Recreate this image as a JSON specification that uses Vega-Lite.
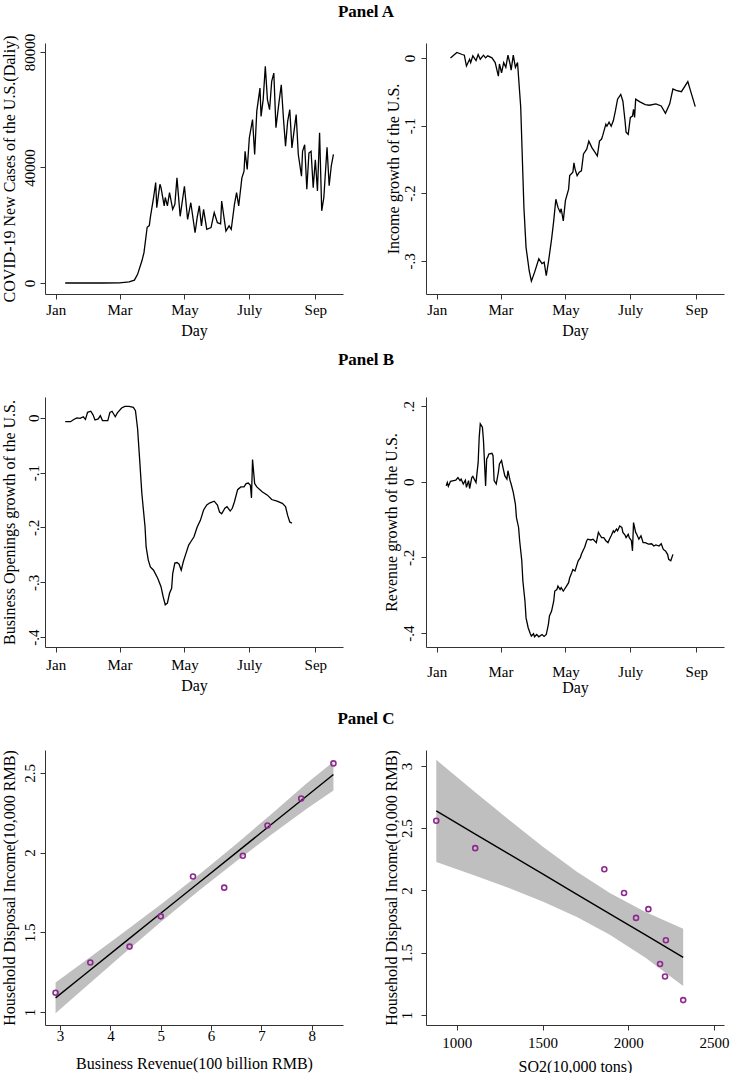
{
  "$schema": "https://vega.github.io/schema/vega-lite/v6.json",
  "padding": {"left": 0, "top": 3, "right": 0, "bottom": 0},
  "background": "white",
  "bounds": "flush",
  "columns": 2,
  "spacing": {"row": 103, "column": 83},
  "config": {
    "font": "Liberation Serif",
    "view": {"stroke": null},
    "axis": {"grid": false, "domainColor": "#333333", "tickColor": "#333333", "labelColor": "#000000", "titleColor": "#000000", "labelFont": "Liberation Serif", "titleFont": "Liberation Serif", "labelFontSize": 15, "titleFontSize": 16, "titleFontWeight": "normal", "tickSize": 5, "labelFlush": false, "labelOverlap": false},
    "axisY": {"labelAngle": -90, "labelAlign": "center", "labelBaseline": "bottom"},
    "title": {"font": "Liberation Serif", "fontSize": 17, "fontWeight": "bold", "color": "#000000", "anchor": "middle", "frame": "group", "baseline": "bottom", "dx": 172}
  },
  "datasets": {
    "covid": [
      {"date": "2020-01-10", "cases": 0}, {"date": "2020-02-15", "cases": 0}, {"date": "2020-03-01", "cases": 50}, {"date": "2020-03-10", "cases": 400},
      {"date": "2020-03-15", "cases": 1000}, {"date": "2020-03-18", "cases": 3000}, {"date": "2020-03-22", "cases": 7600}, {"date": "2020-03-24", "cases": 10500},
      {"date": "2020-03-27", "cases": 19300}, {"date": "2020-03-29", "cases": 19900}, {"date": "2020-03-30", "cases": 22700}, {"date": "2020-04-02", "cases": 29600},
      {"date": "2020-04-04", "cases": 34800}, {"date": "2020-04-05", "cases": 26100}, {"date": "2020-04-08", "cases": 34200}, {"date": "2020-04-09", "cases": 33000},
      {"date": "2020-04-12", "cases": 26700}, {"date": "2020-04-13", "cases": 29600}, {"date": "2020-04-15", "cases": 26700}, {"date": "2020-04-17", "cases": 31300},
      {"date": "2020-04-20", "cases": 25500}, {"date": "2020-04-22", "cases": 27200}, {"date": "2020-04-24", "cases": 36400}, {"date": "2020-04-27", "cases": 23100},
      {"date": "2020-05-01", "cases": 33500}, {"date": "2020-05-04", "cases": 22000}, {"date": "2020-05-07", "cases": 27800}, {"date": "2020-05-11", "cases": 17400},
      {"date": "2020-05-13", "cases": 22700}, {"date": "2020-05-15", "cases": 26700}, {"date": "2020-05-17", "cases": 19800}, {"date": "2020-05-19", "cases": 25500},
      {"date": "2020-05-22", "cases": 18600}, {"date": "2020-05-26", "cases": 19200}, {"date": "2020-05-29", "cases": 24400}, {"date": "2020-06-01", "cases": 20900},
      {"date": "2020-06-04", "cases": 20500}, {"date": "2020-06-05", "cases": 28400}, {"date": "2020-06-09", "cases": 18000}, {"date": "2020-06-12", "cases": 19800},
      {"date": "2020-06-14", "cases": 18600}, {"date": "2020-06-17", "cases": 27200}, {"date": "2020-06-19", "cases": 31300}, {"date": "2020-06-21", "cases": 26700},
      {"date": "2020-06-24", "cases": 36400}, {"date": "2020-06-26", "cases": 38700}, {"date": "2020-06-27", "cases": 45600}, {"date": "2020-06-29", "cases": 39300},
      {"date": "2020-07-01", "cases": 50300}, {"date": "2020-07-04", "cases": 56600}, {"date": "2020-07-06", "cases": 44500}, {"date": "2020-07-08", "cases": 59500},
      {"date": "2020-07-11", "cases": 67500}, {"date": "2020-07-12", "cases": 57700}, {"date": "2020-07-14", "cases": 63500}, {"date": "2020-07-16", "cases": 75000},
      {"date": "2020-07-18", "cases": 63500}, {"date": "2020-07-20", "cases": 60000}, {"date": "2020-07-22", "cases": 69800}, {"date": "2020-07-24", "cases": 72700},
      {"date": "2020-07-26", "cases": 53800}, {"date": "2020-07-29", "cases": 63000}, {"date": "2020-07-31", "cases": 68600}, {"date": "2020-08-02", "cases": 57200},
      {"date": "2020-08-04", "cases": 47400}, {"date": "2020-08-06", "cases": 56000}, {"date": "2020-08-08", "cases": 60000}, {"date": "2020-08-10", "cases": 46800},
      {"date": "2020-08-12", "cases": 52600}, {"date": "2020-08-14", "cases": 58300}, {"date": "2020-08-16", "cases": 44500}, {"date": "2020-08-19", "cases": 37000},
      {"date": "2020-08-20", "cases": 45600}, {"date": "2020-08-22", "cases": 47900}, {"date": "2020-08-24", "cases": 32500}, {"date": "2020-08-26", "cases": 45000},
      {"date": "2020-08-28", "cases": 45600}, {"date": "2020-08-30", "cases": 33000}, {"date": "2020-09-01", "cases": 42700}, {"date": "2020-09-03", "cases": 31900},
      {"date": "2020-09-05", "cases": 52000}, {"date": "2020-09-07", "cases": 25000}, {"date": "2020-09-09", "cases": 29600}, {"date": "2020-09-12", "cases": 47000},
      {"date": "2020-09-14", "cases": 33700}, {"date": "2020-09-16", "cases": 40600}, {"date": "2020-09-18", "cases": 44500}
    ],
    "income": [
      {"date": "2020-01-14", "growth": 0.000}, {"date": "2020-01-20", "growth": 0.008}, {"date": "2020-01-25", "growth": 0.005}, {"date": "2020-01-27", "growth": 0.004},
      {"date": "2020-01-29", "growth": -0.012}, {"date": "2020-02-01", "growth": -0.002}, {"date": "2020-02-02", "growth": -0.007}, {"date": "2020-02-04", "growth": 0.003},
      {"date": "2020-02-07", "growth": -0.004}, {"date": "2020-02-09", "growth": 0.005}, {"date": "2020-02-11", "growth": -0.002}, {"date": "2020-02-14", "growth": 0.004},
      {"date": "2020-02-16", "growth": 0.000}, {"date": "2020-02-18", "growth": 0.003}, {"date": "2020-02-22", "growth": 0.000}, {"date": "2020-02-25", "growth": -0.007},
      {"date": "2020-02-28", "growth": -0.027}, {"date": "2020-02-29", "growth": -0.009}, {"date": "2020-03-02", "growth": -0.022}, {"date": "2020-03-04", "growth": -0.007},
      {"date": "2020-03-06", "growth": -0.014}, {"date": "2020-03-08", "growth": 0.004}, {"date": "2020-03-10", "growth": -0.009}, {"date": "2020-03-11", "growth": -0.018},
      {"date": "2020-03-13", "growth": 0.004}, {"date": "2020-03-15", "growth": -0.014}, {"date": "2020-03-17", "growth": -0.007}, {"date": "2020-03-18", "growth": -0.029},
      {"date": "2020-03-20", "growth": -0.073}, {"date": "2020-03-22", "growth": -0.172}, {"date": "2020-03-23", "growth": -0.221}, {"date": "2020-03-25", "growth": -0.280},
      {"date": "2020-03-28", "growth": -0.315}, {"date": "2020-03-30", "growth": -0.330}, {"date": "2020-04-02", "growth": -0.317}, {"date": "2020-04-06", "growth": -0.297},
      {"date": "2020-04-09", "growth": -0.304}, {"date": "2020-04-11", "growth": -0.302}, {"date": "2020-04-13", "growth": -0.322}, {"date": "2020-04-15", "growth": -0.302},
      {"date": "2020-04-18", "growth": -0.268}, {"date": "2020-04-20", "growth": -0.241}, {"date": "2020-04-22", "growth": -0.209}, {"date": "2020-04-24", "growth": -0.221},
      {"date": "2020-04-26", "growth": -0.228}, {"date": "2020-04-27", "growth": -0.223}, {"date": "2020-04-29", "growth": -0.241}, {"date": "2020-05-01", "growth": -0.211},
      {"date": "2020-05-04", "growth": -0.194}, {"date": "2020-05-05", "growth": -0.174}, {"date": "2020-05-08", "growth": -0.169}, {"date": "2020-05-09", "growth": -0.155},
      {"date": "2020-05-10", "growth": -0.164}, {"date": "2020-05-12", "growth": -0.174}, {"date": "2020-05-14", "growth": -0.169}, {"date": "2020-05-16", "growth": -0.167},
      {"date": "2020-05-18", "growth": -0.142}, {"date": "2020-05-21", "growth": -0.135}, {"date": "2020-05-23", "growth": -0.123}, {"date": "2020-05-26", "growth": -0.133},
      {"date": "2020-05-29", "growth": -0.140}, {"date": "2020-05-31", "growth": -0.145}, {"date": "2020-06-02", "growth": -0.123}, {"date": "2020-06-04", "growth": -0.120},
      {"date": "2020-06-05", "growth": -0.115}, {"date": "2020-06-08", "growth": -0.098}, {"date": "2020-06-09", "growth": -0.101}, {"date": "2020-06-11", "growth": -0.095},
      {"date": "2020-06-13", "growth": -0.101}, {"date": "2020-06-15", "growth": -0.093}, {"date": "2020-06-17", "growth": -0.078}, {"date": "2020-06-19", "growth": -0.061},
      {"date": "2020-06-22", "growth": -0.054}, {"date": "2020-06-24", "growth": -0.064}, {"date": "2020-06-26", "growth": -0.093}, {"date": "2020-06-27", "growth": -0.110},
      {"date": "2020-06-29", "growth": -0.113}, {"date": "2020-07-01", "growth": -0.088}, {"date": "2020-07-03", "growth": -0.086}, {"date": "2020-07-04", "growth": -0.076},
      {"date": "2020-07-05", "growth": -0.088}, {"date": "2020-07-06", "growth": -0.061}, {"date": "2020-07-10", "growth": -0.065}, {"date": "2020-07-15", "growth": -0.069},
      {"date": "2020-07-19", "growth": -0.070}, {"date": "2020-07-25", "growth": -0.068}, {"date": "2020-07-30", "growth": -0.071}, {"date": "2020-08-03", "growth": -0.082},
      {"date": "2020-08-07", "growth": -0.068}, {"date": "2020-08-10", "growth": -0.046}, {"date": "2020-08-13", "growth": -0.048}, {"date": "2020-08-18", "growth": -0.050},
      {"date": "2020-08-24", "growth": -0.035}, {"date": "2020-08-27", "growth": -0.051}, {"date": "2020-08-31", "growth": -0.072}
    ],
    "openings": [
      {"date": "2020-01-10", "growth": -0.007}, {"date": "2020-01-15", "growth": -0.007}, {"date": "2020-01-18", "growth": -0.003}, {"date": "2020-01-21", "growth": 0.000},
      {"date": "2020-01-24", "growth": -0.001}, {"date": "2020-01-27", "growth": 0.002}, {"date": "2020-01-29", "growth": -0.003}, {"date": "2020-01-31", "growth": 0.010},
      {"date": "2020-02-03", "growth": 0.012}, {"date": "2020-02-05", "growth": 0.006}, {"date": "2020-02-07", "growth": -0.004}, {"date": "2020-02-10", "growth": -0.002},
      {"date": "2020-02-12", "growth": 0.004}, {"date": "2020-02-14", "growth": -0.005}, {"date": "2020-02-17", "growth": -0.005}, {"date": "2020-02-19", "growth": -0.005},
      {"date": "2020-02-21", "growth": 0.010}, {"date": "2020-02-23", "growth": 0.012}, {"date": "2020-02-26", "growth": 0.002}, {"date": "2020-02-28", "growth": 0.009},
      {"date": "2020-03-03", "growth": 0.018}, {"date": "2020-03-06", "growth": 0.021}, {"date": "2020-03-10", "growth": 0.021}, {"date": "2020-03-14", "growth": 0.019},
      {"date": "2020-03-16", "growth": 0.013}, {"date": "2020-03-18", "growth": -0.020}, {"date": "2020-03-20", "growth": -0.078}, {"date": "2020-03-22", "growth": -0.138},
      {"date": "2020-03-25", "growth": -0.199}, {"date": "2020-03-26", "growth": -0.235}, {"date": "2020-03-28", "growth": -0.259}, {"date": "2020-03-30", "growth": -0.272},
      {"date": "2020-04-02", "growth": -0.278}, {"date": "2020-04-06", "growth": -0.293}, {"date": "2020-04-09", "growth": -0.308}, {"date": "2020-04-11", "growth": -0.326},
      {"date": "2020-04-13", "growth": -0.341}, {"date": "2020-04-15", "growth": -0.338}, {"date": "2020-04-17", "growth": -0.320}, {"date": "2020-04-19", "growth": -0.311},
      {"date": "2020-04-20", "growth": -0.284}, {"date": "2020-04-22", "growth": -0.265}, {"date": "2020-04-24", "growth": -0.264}, {"date": "2020-04-26", "growth": -0.267},
      {"date": "2020-04-28", "growth": -0.278}, {"date": "2020-04-30", "growth": -0.262}, {"date": "2020-05-02", "growth": -0.250}, {"date": "2020-05-05", "growth": -0.232},
      {"date": "2020-05-07", "growth": -0.226}, {"date": "2020-05-10", "growth": -0.217}, {"date": "2020-05-13", "growth": -0.199}, {"date": "2020-05-16", "growth": -0.187},
      {"date": "2020-05-19", "growth": -0.168}, {"date": "2020-05-22", "growth": -0.159}, {"date": "2020-05-25", "growth": -0.155}, {"date": "2020-05-29", "growth": -0.152},
      {"date": "2020-06-01", "growth": -0.159}, {"date": "2020-06-03", "growth": -0.172}, {"date": "2020-06-05", "growth": -0.175}, {"date": "2020-06-08", "growth": -0.165},
      {"date": "2020-06-10", "growth": -0.162}, {"date": "2020-06-13", "growth": -0.170}, {"date": "2020-06-15", "growth": -0.165}, {"date": "2020-06-17", "growth": -0.153},
      {"date": "2020-06-20", "growth": -0.131}, {"date": "2020-06-23", "growth": -0.126}, {"date": "2020-06-26", "growth": -0.126}, {"date": "2020-06-28", "growth": -0.120},
      {"date": "2020-06-30", "growth": -0.119}, {"date": "2020-07-02", "growth": -0.123}, {"date": "2020-07-03", "growth": -0.146}, {"date": "2020-07-04", "growth": -0.076},
      {"date": "2020-07-06", "growth": -0.120}, {"date": "2020-07-08", "growth": -0.126}, {"date": "2020-07-13", "growth": -0.135}, {"date": "2020-07-18", "growth": -0.141},
      {"date": "2020-07-22", "growth": -0.149}, {"date": "2020-07-27", "growth": -0.152}, {"date": "2020-08-01", "growth": -0.156}, {"date": "2020-08-04", "growth": -0.162},
      {"date": "2020-08-06", "growth": -0.178}, {"date": "2020-08-08", "growth": -0.190}, {"date": "2020-08-10", "growth": -0.192}
    ],
    "revenue": [
      {"date": "2020-01-10", "growth": -0.011}, {"date": "2020-01-11", "growth": -0.002}, {"date": "2020-01-12", "growth": -0.012}, {"date": "2020-01-14", "growth": 0.001},
      {"date": "2020-01-17", "growth": 0.003}, {"date": "2020-01-19", "growth": 0.004}, {"date": "2020-01-21", "growth": 0.011}, {"date": "2020-01-23", "growth": 0.003},
      {"date": "2020-01-24", "growth": 0.007}, {"date": "2020-01-26", "growth": -0.006}, {"date": "2020-01-28", "growth": 0.004}, {"date": "2020-01-29", "growth": -0.015},
      {"date": "2020-01-31", "growth": 0.003}, {"date": "2020-02-01", "growth": -0.018}, {"date": "2020-02-03", "growth": 0.011}, {"date": "2020-02-04", "growth": 0.014},
      {"date": "2020-02-07", "growth": -0.002}, {"date": "2020-02-09", "growth": 0.051}, {"date": "2020-02-10", "growth": 0.118}, {"date": "2020-02-11", "growth": 0.153},
      {"date": "2020-02-13", "growth": 0.144}, {"date": "2020-02-14", "growth": 0.109}, {"date": "2020-02-16", "growth": -0.011}, {"date": "2020-02-17", "growth": 0.060},
      {"date": "2020-02-18", "growth": 0.065}, {"date": "2020-02-19", "growth": 0.073}, {"date": "2020-02-22", "growth": 0.075}, {"date": "2020-02-23", "growth": 0.069},
      {"date": "2020-02-24", "growth": 0.003}, {"date": "2020-02-26", "growth": -0.006}, {"date": "2020-02-28", "growth": 0.025}, {"date": "2020-02-29", "growth": 0.047},
      {"date": "2020-03-02", "growth": 0.056}, {"date": "2020-03-03", "growth": 0.042}, {"date": "2020-03-05", "growth": 0.016}, {"date": "2020-03-07", "growth": 0.007},
      {"date": "2020-03-08", "growth": 0.029}, {"date": "2020-03-10", "growth": 0.003}, {"date": "2020-03-11", "growth": -0.006}, {"date": "2020-03-13", "growth": -0.028},
      {"date": "2020-03-15", "growth": -0.059}, {"date": "2020-03-16", "growth": -0.095}, {"date": "2020-03-18", "growth": -0.121}, {"date": "2020-03-19", "growth": -0.156},
      {"date": "2020-03-21", "growth": -0.209}, {"date": "2020-03-22", "growth": -0.262}, {"date": "2020-03-24", "growth": -0.316}, {"date": "2020-03-25", "growth": -0.360},
      {"date": "2020-03-27", "growth": -0.386}, {"date": "2020-03-29", "growth": -0.402}, {"date": "2020-03-30", "growth": -0.408}, {"date": "2020-04-01", "growth": -0.402},
      {"date": "2020-04-02", "growth": -0.410}, {"date": "2020-04-04", "growth": -0.404}, {"date": "2020-04-06", "growth": -0.410}, {"date": "2020-04-09", "growth": -0.404},
      {"date": "2020-04-11", "growth": -0.409}, {"date": "2020-04-13", "growth": -0.404}, {"date": "2020-04-15", "growth": -0.377}, {"date": "2020-04-16", "growth": -0.355},
      {"date": "2020-04-18", "growth": -0.342}, {"date": "2020-04-20", "growth": -0.316}, {"date": "2020-04-21", "growth": -0.289}, {"date": "2020-04-23", "growth": -0.285},
      {"date": "2020-04-24", "growth": -0.276}, {"date": "2020-04-26", "growth": -0.285}, {"date": "2020-04-27", "growth": -0.280}, {"date": "2020-04-29", "growth": -0.289},
      {"date": "2020-04-30", "growth": -0.285}, {"date": "2020-05-02", "growth": -0.276}, {"date": "2020-05-04", "growth": -0.267}, {"date": "2020-05-05", "growth": -0.254},
      {"date": "2020-05-07", "growth": -0.240}, {"date": "2020-05-08", "growth": -0.232}, {"date": "2020-05-10", "growth": -0.236}, {"date": "2020-05-11", "growth": -0.227},
      {"date": "2020-05-13", "growth": -0.209}, {"date": "2020-05-15", "growth": -0.201}, {"date": "2020-05-16", "growth": -0.192}, {"date": "2020-05-18", "growth": -0.179},
      {"date": "2020-05-19", "growth": -0.174}, {"date": "2020-05-21", "growth": -0.156}, {"date": "2020-05-22", "growth": -0.152}, {"date": "2020-05-25", "growth": -0.154},
      {"date": "2020-05-27", "growth": -0.152}, {"date": "2020-05-30", "growth": -0.161}, {"date": "2020-06-01", "growth": -0.134}, {"date": "2020-06-02", "growth": -0.139},
      {"date": "2020-06-04", "growth": -0.148}, {"date": "2020-06-06", "growth": -0.148}, {"date": "2020-06-08", "growth": -0.156}, {"date": "2020-06-10", "growth": -0.161},
      {"date": "2020-06-12", "growth": -0.148}, {"date": "2020-06-13", "growth": -0.143}, {"date": "2020-06-15", "growth": -0.130}, {"date": "2020-06-16", "growth": -0.134},
      {"date": "2020-06-18", "growth": -0.125}, {"date": "2020-06-19", "growth": -0.130}, {"date": "2020-06-21", "growth": -0.117}, {"date": "2020-06-23", "growth": -0.121},
      {"date": "2020-06-24", "growth": -0.134}, {"date": "2020-06-26", "growth": -0.141}, {"date": "2020-06-27", "growth": -0.148}, {"date": "2020-06-29", "growth": -0.139},
      {"date": "2020-06-30", "growth": -0.148}, {"date": "2020-07-02", "growth": -0.156}, {"date": "2020-07-03", "growth": -0.183}, {"date": "2020-07-04", "growth": -0.108},
      {"date": "2020-07-06", "growth": -0.134}, {"date": "2020-07-07", "growth": -0.139}, {"date": "2020-07-09", "growth": -0.152}, {"date": "2020-07-11", "growth": -0.143},
      {"date": "2020-07-13", "growth": -0.161}, {"date": "2020-07-15", "growth": -0.161}, {"date": "2020-07-18", "growth": -0.165}, {"date": "2020-07-21", "growth": -0.164},
      {"date": "2020-07-23", "growth": -0.170}, {"date": "2020-07-25", "growth": -0.167}, {"date": "2020-07-28", "growth": -0.170}, {"date": "2020-07-30", "growth": -0.164},
      {"date": "2020-08-01", "growth": -0.179}, {"date": "2020-08-03", "growth": -0.183}, {"date": "2020-08-05", "growth": -0.192}, {"date": "2020-08-06", "growth": -0.205},
      {"date": "2020-08-08", "growth": -0.209}, {"date": "2020-08-10", "growth": -0.192}
    ],
    "provinces": [
      {"revenue": 2.91, "so2": 2320, "income": 1.12},
      {"revenue": 3.60, "so2": 2214, "income": 1.31},
      {"revenue": 4.38, "so2": 2185, "income": 1.41},
      {"revenue": 5.00, "so2": 2219, "income": 1.60},
      {"revenue": 5.64, "so2": 2117, "income": 1.85},
      {"revenue": 6.26, "so2": 2045, "income": 1.78},
      {"revenue": 6.63, "so2": 1975, "income": 1.98},
      {"revenue": 7.12, "so2": 1860, "income": 2.17},
      {"revenue": 7.79, "so2": 1107, "income": 2.34},
      {"revenue": 8.43, "so2": 880, "income": 2.56}
    ],
    "fitRevenue": [
      {"revenue": 2.91, "income": 1.088, "lo": 0.991, "hi": 1.185},
      {"revenue": 3.5, "income": 1.238, "lo": 1.155, "hi": 1.321},
      {"revenue": 4.2, "income": 1.416, "lo": 1.348, "hi": 1.484},
      {"revenue": 5.0, "income": 1.619, "lo": 1.564, "hi": 1.674},
      {"revenue": 5.78, "income": 1.817, "lo": 1.767, "hi": 1.867},
      {"revenue": 6.5, "income": 2.000, "lo": 1.946, "hi": 2.054},
      {"revenue": 7.2, "income": 2.178, "lo": 2.113, "hi": 2.243},
      {"revenue": 7.9, "income": 2.355, "lo": 2.275, "hi": 2.435},
      {"revenue": 8.43, "income": 2.49, "lo": 2.39, "hi": 2.57}
    ],
    "fitSO2": [
      {"so2": 880, "income": 2.639, "lo": 2.229, "hi": 3.049},
      {"so2": 1100, "income": 2.459, "lo": 2.122, "hi": 2.796},
      {"so2": 1300, "income": 2.296, "lo": 2.021, "hi": 2.571},
      {"so2": 1500, "income": 2.133, "lo": 1.912, "hi": 2.354},
      {"so2": 1700, "income": 1.969, "lo": 1.788, "hi": 2.150},
      {"so2": 1892, "income": 1.812, "lo": 1.645, "hi": 1.979},
      {"so2": 2100, "income": 1.643, "lo": 1.459, "hi": 1.827},
      {"so2": 2320, "income": 1.463, "lo": 1.233, "hi": 1.693}
    ]
  },
  "concat": [
    {
      "title": {"text": "Panel A", "offset": 12},
      "width": 298, "height": 251,
      "data": {"name": "covid"},
      "mark": {"type": "line", "color": "black", "strokeWidth": 1.3},
      "encoding": {
        "x": {"field": "date", "type": "temporal",
          "scale": {"type": "utc", "domain": [{"year": 2019, "month": 12, "date": 22, "utc": true}, {"year": 2020, "month": 9, "date": 27, "utc": true}]},
          "axis": {"title": "Day", "labelPadding": 3, "titlePadding": 5,
            "values": [{"year": 2020, "month": 1, "date": 1, "utc": true}, {"year": 2020, "month": 3, "date": 1, "utc": true}, {"year": 2020, "month": 5, "date": 1, "utc": true}, {"year": 2020, "month": 7, "date": 1, "utc": true}, {"year": 2020, "month": 9, "date": 1, "utc": true}],
            "labelExpr": "utcFormat(datum.value, '%m') == '07' ? 'July' : utcFormat(datum.value, '%b')"}},
        "y": {"field": "cases", "type": "quantitative",
          "scale": {"domain": [-3800, 83100], "nice": false, "zero": false},
          "axis": {"title": "COVID-19 New Cases of the U.S.(Daliy)", "values": [0, 40000, 80000], "labelExpr": "format(datum.value, 'd')", "labelPadding": 3, "titlePadding": 5}}
      }
    },
    {
      "width": 298, "height": 251,
      "data": {"name": "income"},
      "mark": {"type": "line", "color": "black", "strokeWidth": 1.3},
      "encoding": {
        "x": {"field": "date", "type": "temporal",
          "scale": {"type": "utc", "domain": [{"year": 2019, "month": 12, "date": 22, "utc": true}, {"year": 2020, "month": 9, "date": 27, "utc": true}]},
          "axis": {"title": "Day", "labelPadding": 3, "titlePadding": 5,
            "values": [{"year": 2020, "month": 1, "date": 1, "utc": true}, {"year": 2020, "month": 3, "date": 1, "utc": true}, {"year": 2020, "month": 5, "date": 1, "utc": true}, {"year": 2020, "month": 7, "date": 1, "utc": true}, {"year": 2020, "month": 9, "date": 1, "utc": true}],
            "labelExpr": "utcFormat(datum.value, '%m') == '07' ? 'July' : utcFormat(datum.value, '%b')"}},
        "y": {"field": "growth", "type": "quantitative",
          "scale": {"domain": [-0.349, 0.022], "nice": false, "zero": false},
          "axis": {"title": "Income growth of the U.S.", "values": [-0.3, -0.2, -0.1, 0], "labelExpr": "datum.value == 0 ? '0' : (datum.value < 0 ? '-' : '') + '.' + format(abs(datum.value) * 10, '.0f')", "labelPadding": 4, "titlePadding": 1}}
      }
    },
    {
      "title": {"text": "Panel B", "offset": 28},
      "width": 298, "height": 250,
      "data": {"name": "openings"},
      "mark": {"type": "line", "color": "black", "strokeWidth": 1.3},
      "encoding": {
        "x": {"field": "date", "type": "temporal",
          "scale": {"type": "utc", "domain": [{"year": 2019, "month": 12, "date": 22, "utc": true}, {"year": 2020, "month": 9, "date": 27, "utc": true}]},
          "axis": {"title": "Day", "labelPadding": 5, "titlePadding": 5,
            "values": [{"year": 2020, "month": 1, "date": 1, "utc": true}, {"year": 2020, "month": 3, "date": 1, "utc": true}, {"year": 2020, "month": 5, "date": 1, "utc": true}, {"year": 2020, "month": 7, "date": 1, "utc": true}, {"year": 2020, "month": 9, "date": 1, "utc": true}],
            "labelExpr": "utcFormat(datum.value, '%m') == '07' ? 'July' : utcFormat(datum.value, '%b')"}},
        "y": {"field": "growth", "type": "quantitative",
          "scale": {"domain": [-0.418, 0.038], "nice": false, "zero": false},
          "axis": {"title": "Business Openings growth of the U.S.", "values": [-0.4, -0.3, -0.2, -0.1, 0], "labelExpr": "datum.value == 0 ? '0' : (datum.value < 0 ? '-' : '') + '.' + format(abs(datum.value) * 10, '.0f')", "labelPadding": -1, "titlePadding": 9}}
      }
    },
    {
      "width": 298, "height": 250,
      "data": {"name": "revenue"},
      "mark": {"type": "line", "color": "black", "strokeWidth": 1.3},
      "encoding": {
        "x": {"field": "date", "type": "temporal",
          "scale": {"type": "utc", "domain": [{"year": 2019, "month": 12, "date": 22, "utc": true}, {"year": 2020, "month": 9, "date": 27, "utc": true}]},
          "axis": {"title": "Day", "labelPadding": 12, "titlePadding": 0,
            "values": [{"year": 2020, "month": 1, "date": 1, "utc": true}, {"year": 2020, "month": 3, "date": 1, "utc": true}, {"year": 2020, "month": 5, "date": 1, "utc": true}, {"year": 2020, "month": 7, "date": 1, "utc": true}, {"year": 2020, "month": 9, "date": 1, "utc": true}],
            "labelExpr": "utcFormat(datum.value, '%m') == '07' ? 'July' : utcFormat(datum.value, '%b')"}},
        "y": {"field": "growth", "type": "quantitative",
          "scale": {"domain": [-0.437, 0.224], "nice": false, "zero": false},
          "axis": {"title": "Revenue growth of the U.S.", "values": [-0.4, -0.2, 0, 0.2], "labelExpr": "datum.value == 0 ? '0' : (datum.value < 0 ? '-' : '') + '.' + format(abs(datum.value) * 10, '.0f')", "labelPadding": 5, "titlePadding": 2}}
      }
    },
    {
      "title": {"text": "Panel C", "offset": 22},
      "width": 298, "height": 275,
      "encoding": {
        "x": {"field": "revenue", "type": "quantitative",
          "scale": {"domain": [2.70, 8.62], "nice": false, "zero": false},
          "axis": {"title": "Business Revenue(100 billion RMB)", "values": [3, 4, 5, 6, 7, 8], "labelExpr": "format(datum.value, '~g')", "labelPadding": -2, "titlePadding": 12}}
      },
      "layer": [
        {
          "data": {"name": "fitRevenue"},
          "mark": {"type": "area", "color": "#bfbfbf", "opacity": 1},
          "encoding": {
            "y": {"field": "lo", "type": "quantitative", "scale": {"domain": [0.918, 2.644], "nice": false, "zero": false},
              "axis": {"title": "Household Disposal Income(10,000 RMB)", "values": [1, 1.5, 2, 2.5], "labelExpr": "format(datum.value, '~g')", "labelPadding": 3, "titlePadding": 5}},
            "y2": {"field": "hi"}
          }
        },
        {
          "data": {"name": "fitRevenue"},
          "mark": {"type": "line", "color": "black", "strokeWidth": 1.4},
          "encoding": {
            "y": {"field": "income", "type": "quantitative", "title": "Household Disposal Income(10,000 RMB)"}
          }
        },
        {
          "data": {"name": "provinces"},
          "mark": {"type": "point", "filled": false, "color": "#8e2a8e", "size": 25, "strokeWidth": 1.6, "opacity": 1},
          "encoding": {
            "y": {"field": "income", "type": "quantitative", "title": "Household Disposal Income(10,000 RMB)"}
          }
        }
      ]
    },
    {
      "width": 298, "height": 275,
      "encoding": {
        "x": {"field": "so2", "type": "quantitative",
          "scale": {"domain": [820, 2558], "nice": false, "zero": false},
          "axis": {"title": "SO2(10,000 tons)", "values": [1000, 1500, 2000, 2500], "labelExpr": "format(datum.value, 'd')", "labelPadding": 5, "titlePadding": 8}}
      },
      "layer": [
        {
          "data": {"name": "fitSO2"},
          "mark": {"type": "area", "color": "#bfbfbf", "opacity": 1},
          "encoding": {
            "y": {"field": "lo", "type": "quantitative", "scale": {"domain": [0.92, 3.128], "nice": false, "zero": false},
              "axis": {"title": "Household Disposal Income(10,000 RMB)", "values": [1, 1.5, 2, 2.5, 3], "labelExpr": "format(datum.value, '~g')", "labelPadding": 7, "titlePadding": 0}},
            "y2": {"field": "hi"}
          }
        },
        {
          "data": {"name": "fitSO2"},
          "mark": {"type": "line", "color": "black", "strokeWidth": 1.4},
          "encoding": {
            "y": {"field": "income", "type": "quantitative", "title": "Household Disposal Income(10,000 RMB)"}
          }
        },
        {
          "data": {"name": "provinces"},
          "mark": {"type": "point", "filled": false, "color": "#8e2a8e", "size": 25, "strokeWidth": 1.6, "opacity": 1},
          "encoding": {
            "y": {"field": "income", "type": "quantitative", "title": "Household Disposal Income(10,000 RMB)"}
          }
        }
      ]
    }
  ]
}
